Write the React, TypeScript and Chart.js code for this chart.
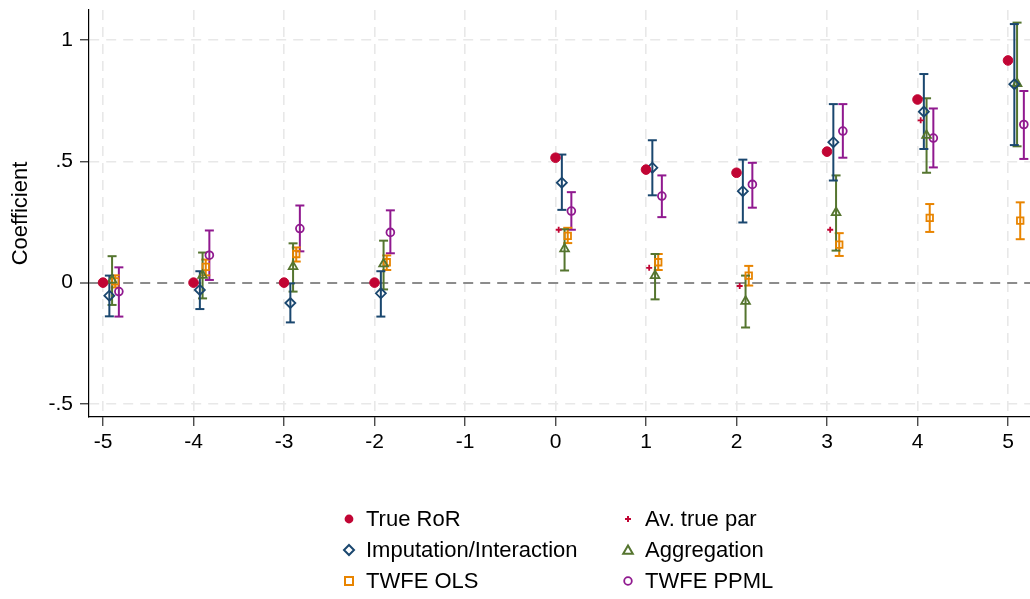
import React, { useEffect, useRef } from "react";
import { Chart, registerables } from "chart.js";

Chart.register(...registerables);

// ---------- data ----------
const periods = [-5, -4, -3, -2, 0, 1, 2, 3, 4, 5];
const xTickValues = [-5, -4, -3, -2, -1, 0, 1, 2, 3, 4, 5];
const yTickValues = [-0.5, 0, 0.5, 1];
const yTickLabels = ["-.5", "0", ".5", "1"];

const trueRoR = [0, 0, 0, 0, 0.515, 0.466, 0.453, 0.54, 0.755, 0.916];
const avTruePar = [null, null, null, null, 0.218, 0.061, -0.014, 0.218, 0.669, null];

const impEst = [-0.054, -0.03, -0.084, -0.044, 0.412, 0.474, 0.377, 0.579, 0.705, 0.818];
const impLo = [-0.139, -0.109, -0.164, -0.14, 0.3, 0.36, 0.248, 0.421, 0.551, 0.567];
const impHi = [0.029, 0.047, -0.003, 0.047, 0.528, 0.587, 0.507, 0.736, 0.86, 1.066];

const aggEst = [0.01, 0.03, 0.066, 0.077, 0.139, 0.029, -0.077, 0.289, 0.607, 0.821];
const aggLo = [-0.092, -0.065, -0.037, -0.028, 0.05, -0.069, -0.185, 0.132, 0.453, 0.562];
const aggHi = [0.109, 0.124, 0.162, 0.173, 0.22, 0.118, 0.029, 0.442, 0.76, 1.072];

const olsEst = [0.005, 0.065, 0.118, 0.084, 0.193, 0.084, 0.029, 0.157, 0.267, 0.256];
const olsLo = [-0.02, 0.03, 0.087, 0.052, 0.163, 0.052, -0.012, 0.11, 0.209, 0.179];
const olsHi = [0.03, 0.095, 0.145, 0.112, 0.226, 0.118, 0.069, 0.204, 0.324, 0.331];

const ppmlEst = [-0.037, 0.113, 0.223, 0.207, 0.295, 0.357, 0.405, 0.625, 0.596, 0.652];
const ppmlLo = [-0.14, 0.011, 0.129, 0.121, 0.218, 0.27, 0.309, 0.515, 0.475, 0.51];
const ppmlHi = [0.063, 0.215, 0.318, 0.298, 0.373, 0.442, 0.494, 0.736, 0.718, 0.79];

// ---------- styles ----------
const C_ROR = "#c10534";
const C_IMP = "#1a476f";
const C_AGG = "#55752f";
const C_OLS = "#e88400";
const C_PPML = "#90198f";
const FONT = "'Liberation Sans', Arial, Helvetica, sans-serif";

const OFF_ROR = 0;
const OFF_AV = 0.035;
const OFF_IMP = 0.07;
const OFF_AGG = 0.1;
const OFF_OLS = 0.135;
const OFF_PPML = 0.175;

function points(vals: (number | null)[], off: number) {
  const out: { x: number; y: number }[] = [];
  periods.forEach((p, i) => {
    const v = vals[i];
    if (v !== null && v !== undefined) out.push({ x: p + off, y: v });
  });
  return out;
}

function bars(lo: number[], hi: number[], off: number) {
  const out: { x: number; y: number | null }[] = [];
  periods.forEach((p, i) => {
    out.push({ x: p + off, y: lo[i] });
    out.push({ x: p + off, y: hi[i] });
    out.push({ x: p + off, y: null });
  });
  return out;
}

function barSet(lo: number[], hi: number[], off: number, color: string) {
  return {
    label: "_ci",
    data: bars(lo, hi, off),
    showLine: true,
    spanGaps: false,
    borderColor: color,
    borderWidth: 2,
    pointStyle: "line",
    pointRadius: 4.5,
    pointBorderWidth: 2,
    pointBorderColor: color,
    pointBackgroundColor: color,
    order: 2,
  };
}

function markSet(
  label: string,
  vals: (number | null)[],
  off: number,
  color: string,
  style: string,
  radius: number,
  filled: boolean
) {
  return {
    label,
    data: points(vals, off),
    showLine: false,
    pointStyle: style,
    pointRadius: radius,
    pointBorderWidth: filled ? 1 : 1.8,
    pointBorderColor: color,
    pointBackgroundColor: filled ? color : "rgba(0,0,0,0)",
    order: 1,
  };
}

const legendItems = [
  { label: "True RoR", kind: "dot", color: C_ROR, col: 0, row: 0 },
  { label: "Av. true par", kind: "plus", color: C_ROR, col: 1, row: 0 },
  { label: "Imputation/Interaction", kind: "diamond", color: C_IMP, col: 0, row: 1 },
  { label: "Aggregation", kind: "triangle", color: C_AGG, col: 1, row: 1 },
  { label: "TWFE OLS", kind: "square", color: C_OLS, col: 0, row: 2 },
  { label: "TWFE PPML", kind: "circle", color: C_PPML, col: 1, row: 2 },
];

function Marker({ kind, color }: { kind: string; color: string }) {
  let shape: React.ReactNode = null;
  if (kind === "dot") shape = <circle cx={9} cy={9} r={4.4} fill={color} />;
  if (kind === "plus")
    shape = (
      <g stroke={color} strokeWidth={2}>
        <line x1={6} y1={9} x2={12} y2={9} />
        <line x1={9} y1={6} x2={9} y2={12} />
      </g>
    );
  if (kind === "diamond")
    shape = <polygon points="9,4 14,9 9,14 4,9" fill="none" stroke={color} strokeWidth={2} />;
  if (kind === "triangle")
    shape = <polygon points="9,4.5 13.8,12.8 4.2,12.8" fill="none" stroke={color} strokeWidth={2} />;
  if (kind === "square")
    shape = <rect x={5} y={5} width={8} height={8} fill="none" stroke={color} strokeWidth={2} />;
  if (kind === "circle")
    shape = <circle cx={9} cy={9} r={3.8} fill="none" stroke={color} strokeWidth={1.8} />;
  return (
    <svg width={18} height={18} style={{ display: "block" }}>
      {shape}
    </svg>
  );
}

export default function App() {
  const ref = useRef<HTMLCanvasElement | null>(null);

  useEffect(() => {
    if (!ref.current) return;
    const chart = new Chart(ref.current, {
      type: "scatter",
      data: {
        datasets: [
          barSet(impLo, impHi, OFF_IMP, C_IMP),
          barSet(aggLo, aggHi, OFF_AGG, C_AGG),
          barSet(olsLo, olsHi, OFF_OLS, C_OLS),
          barSet(ppmlLo, ppmlHi, OFF_PPML, C_PPML),
          markSet("True RoR", trueRoR, OFF_ROR, C_ROR, "circle", 4.8, true),
          markSet("Av. true par", avTruePar, OFF_AV, C_ROR, "cross", 3, false),
          markSet("Imputation/Interaction", impEst, OFF_IMP, C_IMP, "rectRot", 5, false),
          markSet("Aggregation", aggEst, OFF_AGG, C_AGG, "triangle", 5, false),
          markSet("TWFE OLS", olsEst, OFF_OLS, C_OLS, "rect", 4.6, false),
          markSet("TWFE PPML", ppmlEst, OFF_PPML, C_PPML, "circle", 3.9, false),
        ] as any,
      },
      options: {
        animation: false,
        responsive: true,
        maintainAspectRatio: false,
        events: [],
        layout: { autoPadding: false, padding: { top: 10, left: 0, right: 0, bottom: 0 } },
        plugins: {
          legend: { display: false },
          tooltip: { enabled: false },
        },
        scales: {
          x: {
            type: "linear",
            min: -5.155,
            max: 5.243,
            afterBuildTicks: (s: any) => {
              s.ticks = xTickValues.map((v) => ({ value: v }));
            },
            afterFit: (s: any) => {
              s.height = 182;
              s.paddingLeft = 0;
              s.paddingRight = 0;
            },
            ticks: {
              autoSkip: false,
              maxRotation: 0,
              padding: 4,
              color: "#000",
              font: { family: FONT, size: 21 },
              callback: (v: any) => String(v),
            },
            grid: {
              color: "#e8e8e8",
              lineWidth: 1.6,
              tickColor: "#000",
              tickLength: 9,
              tickWidth: 1,
              tickBorderDash: [],
            },
            border: { display: true, color: "#000", width: 1.2, dash: [10, 7] },
          },
          y: {
            type: "linear",
            min: -0.554,
            max: 1.124,
            afterBuildTicks: (s: any) => {
              s.ticks = yTickValues.map((v) => ({ value: v }));
            },
            afterFit: (s: any) => {
              s.width = 89;
              s.paddingTop = 0;
              s.paddingBottom = 0;
            },
            ticks: {
              padding: 7,
              color: "#000",
              font: { family: FONT, size: 21 },
              callback: (_v: any, i: number) => yTickLabels[i],
            },
            grid: {
              color: (c: any) => (c.tick && c.tick.value === 0 ? "#8c8c8c" : "#e8e8e8"),
              lineWidth: (c: any) => (c.tick && c.tick.value === 0 ? 2 : 1.6),
              tickColor: "#000",
              tickLength: 9,
              tickWidth: 1,
              tickBorderDash: [],
            },
            border: { display: true, color: "#000", width: 1.2, dash: [10, 7] },
            title: {
              display: true,
              text: "Coefficient",
              color: "#000",
              font: { family: FONT, size: 22 },
              padding: { top: 8, bottom: 0 },
            },
          },
        },
      } as any,
    });
    return () => chart.destroy();
  }, []);

  const colText = [366, 645];
  const colMark = [340, 619];
  const rowCenter = [519, 550, 581];

  return (
    <div
      style={{
        position: "absolute",
        left: 0,
        top: 0,
        width: 1030,
        height: 599,
        background: "#fff",
        fontFamily: FONT,
      }}
    >
      <canvas ref={ref} style={{ position: "absolute", left: 0, top: 0 }} />
      {legendItems.map((it) => (
        <React.Fragment key={it.label}>
          <div
            style={{
              position: "absolute",
              left: colMark[it.col],
              top: rowCenter[it.row] - 9,
              width: 18,
              height: 18,
            }}
          >
            <Marker kind={it.kind} color={it.color} />
          </div>
          <div
            style={{
              position: "absolute",
              left: colText[it.col],
              top: rowCenter[it.row] - 15,
              height: 30,
              lineHeight: "30px",
              fontSize: 22,
              color: "#000",
              whiteSpace: "nowrap",
            }}
          >
            {it.label}
          </div>
        </React.Fragment>
      ))}
    </div>
  );
}
